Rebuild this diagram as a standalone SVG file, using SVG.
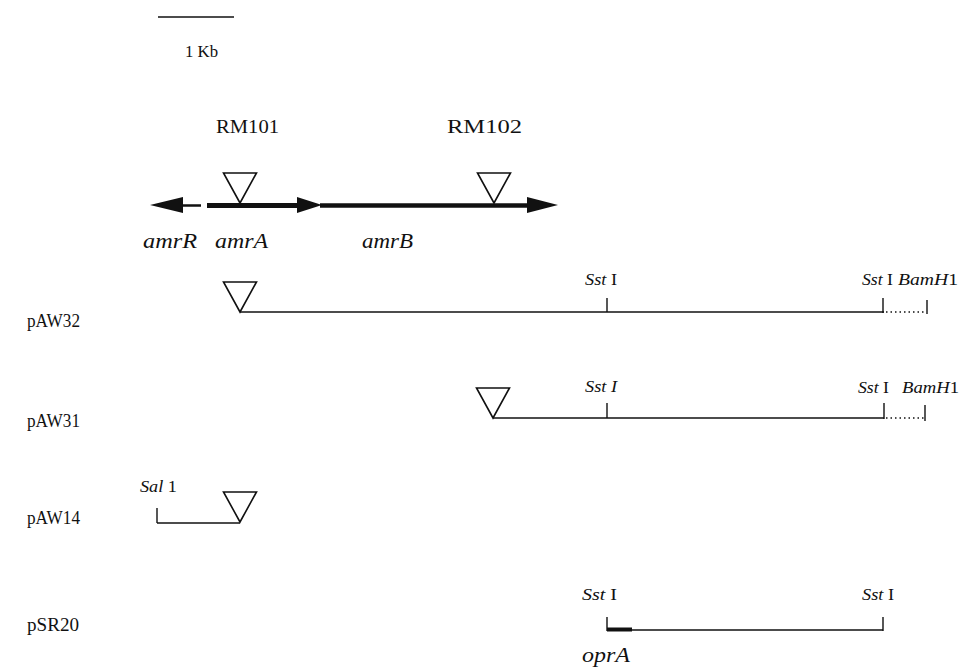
<svg xmlns="http://www.w3.org/2000/svg" width="959" height="670" viewBox="0 0 959 670">
  <style>
    text { font-family: "Liberation Serif", "Times New Roman", serif; fill: #111; }
    .lbl { font-size: 18.5px; }
    .gene { font-size: 21px; font-style: italic; }
    .site { font-size: 16.5px; }
    .it { font-style: italic; }
    .thin { stroke: #111; stroke-width: 1.3; fill: none; }
    .tick { stroke: #111; stroke-width: 1.4; fill: none; }
    .dot { stroke: #111; stroke-width: 1.3; stroke-dasharray: 1.5 3; fill: none; }
    .ins { stroke: #111; stroke-width: 1.6; fill: #fff; stroke-linejoin: miter; }
    .bold { stroke: #111; stroke-width: 5; fill: none; }
    .head { fill: #111; stroke: none; }
  </style>
  <defs>
    <!-- transposon insertion marker, apex at origin -->
    <path id="tn" d="M -16.5 -30 L 16.5 -30 L 0 0 Z"/>
  </defs>

  <!-- scale bar -->
  <g id="scale">
    <line x1="158" y1="17" x2="234" y2="17" stroke="#111" stroke-width="1.5"/>
    <text class="site" x="185" y="57" textLength="33" lengthAdjust="spacingAndGlyphs">1 Kb</text>
  </g>

  <!-- gene map with insertion sites -->
  <g id="genemap">
    <text class="lbl" x="216" y="133" textLength="63" lengthAdjust="spacingAndGlyphs">RM101</text>
    <text class="lbl" x="447" y="133" textLength="75" lengthAdjust="spacingAndGlyphs">RM102</text>
    <!-- amrR (leftward) -->
    <polygon class="head" points="150,205 183,197 183,213"/>
    <line x1="182" y1="205.5" x2="201" y2="205.5" stroke="#111" stroke-width="2.5"/>
    <!-- amrA -->
    <line class="bold" x1="207" y1="205.5" x2="298" y2="205.5"/>
    <polygon class="head" points="297,197 322,205 297,213"/>
    <!-- amrB -->
    <line x1="320" y1="205.5" x2="528" y2="205.5" stroke="#111" stroke-width="4.5"/>
    <polygon class="head" points="527,197 558,205 527,213"/>
    <use href="#tn" class="ins" x="240" y="203"/>
    <use href="#tn" class="ins" x="494" y="203"/>
    <text class="gene" x="143" y="248" textLength="54" lengthAdjust="spacingAndGlyphs">amrR</text>
    <text class="gene" x="215" y="248" textLength="53" lengthAdjust="spacingAndGlyphs">amrA</text>
    <text class="gene" x="362" y="248" textLength="51" lengthAdjust="spacingAndGlyphs">amrB</text>
  </g>

  <!-- pAW32 -->
  <g id="pAW32">
    <text class="lbl" x="27" y="327" textLength="53" lengthAdjust="spacingAndGlyphs">pAW32</text>
    <line class="thin" x1="240" y1="312" x2="884" y2="312"/>
    <line class="dot" x1="886" y1="312" x2="926" y2="312"/>
    <line class="tick" x1="607" y1="298" x2="607" y2="312"/>
    <line class="tick" x1="883" y1="298" x2="883" y2="313"/>
    <line class="tick" x1="927" y1="300" x2="927" y2="314"/>
    <use href="#tn" class="ins" x="240" y="312"/>
    <text class="site" x="585" y="285" textLength="32" lengthAdjust="spacingAndGlyphs"><tspan class="it">Sst</tspan> I</text>
    <text class="site" x="862" y="285" textLength="31" lengthAdjust="spacingAndGlyphs"><tspan class="it">Sst</tspan> I</text>
    <text class="site" x="898" y="285" textLength="60" lengthAdjust="spacingAndGlyphs"><tspan class="it">BamH</tspan>1</text>
  </g>

  <!-- pAW31 -->
  <g id="pAW31">
    <text class="lbl" x="27" y="427" textLength="53" lengthAdjust="spacingAndGlyphs">pAW31</text>
    <line class="thin" x1="493" y1="418" x2="884" y2="418"/>
    <line class="dot" x1="886" y1="418" x2="924" y2="418"/>
    <line class="tick" x1="607" y1="403" x2="607" y2="418"/>
    <line class="tick" x1="884" y1="403" x2="884" y2="419"/>
    <line class="tick" x1="925" y1="405" x2="925" y2="421"/>
    <use href="#tn" class="ins" x="493" y="418"/>
    <text class="site it" x="585" y="392" textLength="32" lengthAdjust="spacingAndGlyphs">Sst I</text>
    <text class="site" x="858" y="393" textLength="31" lengthAdjust="spacingAndGlyphs"><tspan class="it">Sst</tspan> I</text>
    <text class="site" x="902" y="393" textLength="57" lengthAdjust="spacingAndGlyphs"><tspan class="it">BamH</tspan>1</text>
  </g>

  <!-- pAW14 -->
  <g id="pAW14">
    <text class="lbl" x="27" y="524" textLength="53" lengthAdjust="spacingAndGlyphs">pAW14</text>
    <line class="thin" x1="157" y1="523" x2="240" y2="523"/>
    <line class="tick" x1="157" y1="508" x2="157" y2="523"/>
    <use href="#tn" class="ins" x="240" y="522"/>
    <text class="site" x="140" y="492" textLength="37" lengthAdjust="spacingAndGlyphs"><tspan class="it">Sal</tspan> 1</text>
  </g>

  <!-- pSR20 -->
  <g id="pSR20">
    <text class="lbl" x="27" y="631" textLength="52" lengthAdjust="spacingAndGlyphs">pSR20</text>
    <line class="thin" x1="607" y1="630" x2="883" y2="630"/>
    <line x1="607" y1="629.5" x2="632" y2="629.5" stroke="#111" stroke-width="4"/>
    <line class="tick" x1="607" y1="617" x2="607" y2="631"/>
    <line class="tick" x1="883" y1="617" x2="883" y2="631"/>
    <text class="site" x="582" y="600" textLength="35" lengthAdjust="spacingAndGlyphs"><tspan class="it">Sst</tspan> I</text>
    <text class="site" x="862" y="600" textLength="32" lengthAdjust="spacingAndGlyphs"><tspan class="it">Sst</tspan> I</text>
    <text class="gene" x="582" y="662" textLength="48" lengthAdjust="spacingAndGlyphs">oprA</text>
  </g>
</svg>
